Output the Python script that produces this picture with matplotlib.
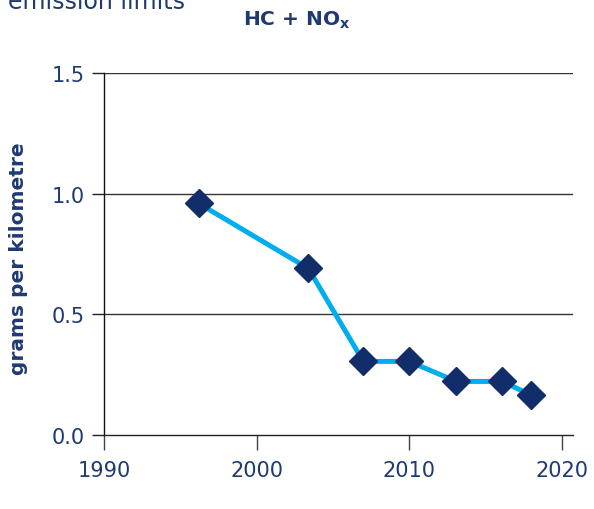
import matplotlib
matplotlib.use("Agg")
import matplotlib.pyplot as plt

# Emission limit data
years = [1996.2, 2003.4, 2007.0, 2010.0, 2013.1, 2016.1, 2018.0]
limits = [0.96, 0.69, 0.305, 0.305, 0.222, 0.222, 0.166]
x_ticks = [1990, 2000, 2010, 2020]
y_ticks = [0.0, 0.5, 1.0, 1.5]
y_tick_labels = ['0.0', '0.5', '1.0', '1.5']

navy = '#112d6a'
text_navy = '#1f3a72'
line_blue = '#00aeef'

plt.rcParams['font.family'] = ['DejaVu Sans']
plt.rcParams['mathtext.default'] = 'bf'

fig = plt.figure(figsize=(5.94, 5.10), dpi=100, facecolor='white')
ax = fig.add_axes([104/594, 1-436/510, (573-104)/594, (436-74)/510])

ax.plot(years, limits, color=line_blue, linewidth=3.6, zorder=3)
ax.plot(years, limits, linestyle='none', marker='D', markersize=14,
        color=navy, zorder=4)

ax.set_xlim(1990, 2020.75)
ax.set_ylim(0, 1.5)
ax.set_xticks(x_ticks)
ax.set_yticks(y_ticks)
ax.set_yticklabels(y_tick_labels)

for y in y_ticks[1:]:
    ax.axhline(y, color='#333333', linewidth=1.0, zorder=1)

ax.spines['top'].set_visible(False)
ax.spines['right'].set_visible(False)
ax.spines['left'].set_color('#111111')
ax.spines['bottom'].set_color('#222222')
ax.spines['left'].set_linewidth(1.0)
ax.spines['bottom'].set_linewidth(1.0)

ax.tick_params(axis='x', direction='out', length=11, width=1.0, pad=7,
               colors='#444444', labelcolor=text_navy, labelsize=15)
ax.tick_params(axis='y', direction='out', length=9, width=1.0, pad=5,
               colors='#222222', labelcolor=text_navy, labelsize=15)

ax.set_ylabel('grams per kilometre', fontsize=14.5, fontweight='bold',
              color=text_navy)
ax.yaxis.set_label_coords(-0.162, 0.49)

fig.text(0.5, 1-20/510, r'HC + NO$_{x}$', ha='center', va='center',
         fontsize=14.5, fontweight='bold', color=text_navy)
fig.text(185/594, 1-9/510, 'emission limits', ha='right', va='baseline',
         fontsize=17, color=text_navy)

fig.savefig('out.png', dpi=100, facecolor='white')
